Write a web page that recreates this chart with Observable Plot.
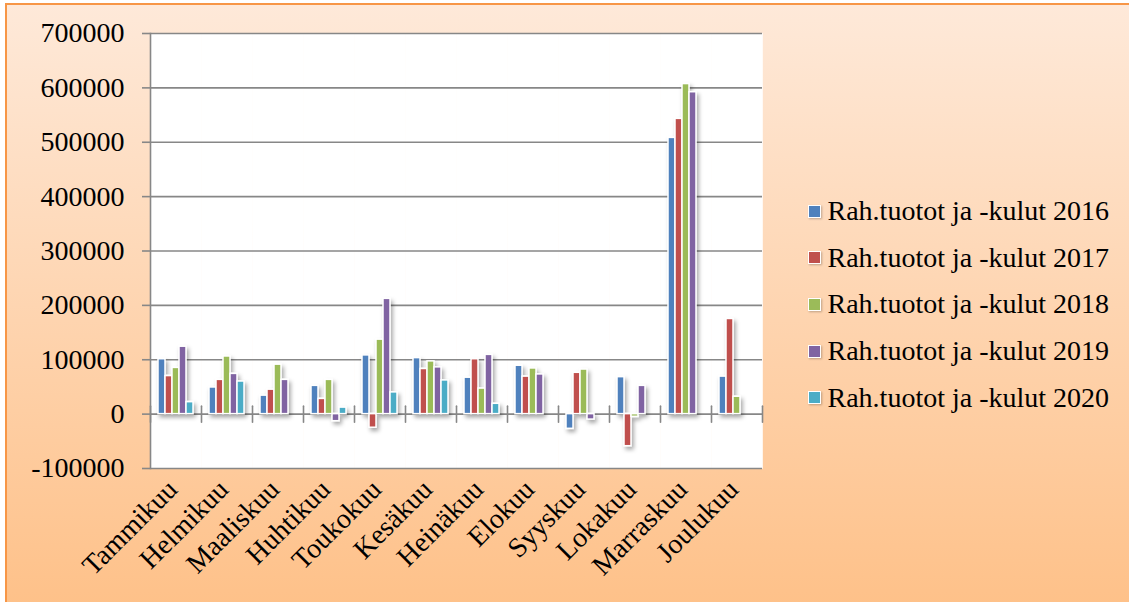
<!DOCTYPE html>
<html><head><meta charset="utf-8">
<script src="https://cdn.jsdelivr.net/npm/d3@7"></script>
<script src="https://cdn.jsdelivr.net/npm/@observablehq/plot@0.6"></script>
<style>
html,body{margin:0;padding:0;overflow:hidden;width:1129px;height:602px;}
body{position:relative;font-family:"Liberation Serif",serif;}
#bg{position:absolute;left:5px;top:3px;width:1140px;height:601px;border-left:2px solid #f79646;border-top:2px solid #f79646;background:linear-gradient(to bottom,#fee9d9,#fec189);}
#chart{position:absolute;left:0;top:0;}
#chart text{font-family:"Liberation Serif",serif !important;font-variant:normal !important;}
#legend{position:absolute;left:808px;top:188px;}
.row{display:flex;align-items:center;height:46.6px;}
.sw{width:11px;height:11px;border:1.5px solid #fff;box-shadow:1px 1px 2px rgba(0,0,0,0.25);}
.lb{margin-left:6.5px;font-family:"Liberation Serif",serif;font-size:28px;color:#000;white-space:nowrap;line-height:1;}
</style>
</head><body>
<div id="bg"></div>
<div id="chart"></div>
<div id="legend"></div>
<script>
const months = ["Tammikuu","Helmikuu","Maaliskuu","Huhtikuu","Toukokuu","Kesäkuu","Heinäkuu","Elokuu","Syyskuu","Lokakuu","Marraskuu","Joulukuu"];
const series = ["Rah.tuotot ja -kulut 2016","Rah.tuotot ja -kulut 2017","Rah.tuotot ja -kulut 2018","Rah.tuotot ja -kulut 2019","Rah.tuotot ja -kulut 2020"];
const colors = ["#4f81bd","#c0504d","#9bbb59","#8064a2","#4bacc6"];
const v2016 = [101000, 49000, 34000, 52000, 108000, 103000, 67000, 89000, -27000, 68000, 508000, 69000];
const v2017 = [70000, 63000, 45000, 28000, -25000, 83000, 101000, 69000, 76000, -59000, 543000, 175000];
const v2018 = [85000, 106000, 91000, 63000, 137000, 97000, 47000, 84000, 82000, -5000, 607000, 32000];
const v2019 = [124000, 74000, 63000, -13000, 212000, 86000, 109000, 73000, -10000, 52000, 592000, null];
const v2020 = [22000, 60000, null, 12000, 40000, 62000, 19000, null, null, null, null, null];
const yTicks = [-100000, 0, 100000, 200000, 300000, 400000, 500000, 600000, 700000];

const seriesValues = [v2016, v2017, v2018, v2019, v2020];
const data = months.flatMap((m, i) => series.map((s, j) => ({month: m, series: s, value: seriesValues[j][i]})))
  .filter(d => d.value !== null);

const grey = "#878787";
const sep = {draw(context, l) { context.moveTo(0, 0); context.lineTo(0, -l); }};

const chart = Plot.plot({
  width: 1129, height: 602,
  marginLeft: 146, marginRight: 363, marginTop: 33, marginBottom: 134,
  style: {background: "transparent", fontFamily: "Liberation Serif", fontSize: "28px", color: "#000", overflow: "visible"},
  fx: {domain: months, padding: 0, axis: null},
  x: {domain: series, paddingInner: 0.0625, paddingOuter: 0.76, axis: null},
  y: {domain: [-100000, 700000], axis: null},
  color: {domain: series, range: colors},
  marks: [
    Plot.frame({fill: "white", stroke: "white", strokeWidth: 0.6}),
    Plot.gridY(yTicks, {stroke: grey, strokeOpacity: 1, strokeWidth: 1.6}),
    Plot.frame({anchor: "left", stroke: grey, strokeWidth: 1.6, facetAnchor: "left"}),
    Plot.axisY(yTicks, {anchor: "left", label: null, tickSize: 8, tickPadding: 18, tickFormat: d => String(d), stroke: grey, strokeWidth: 1.6, fill: "#000", fontSize: 28, facetAnchor: "left"}),
    Plot.vector([0], {y: d => d, frameAnchor: "left", length: 16, rotate: 0, anchor: "middle", shape: sep, stroke: grey, strokeWidth: 1.6}),
    Plot.vector([0], {y: d => d, frameAnchor: "right", facetAnchor: "right", length: 16, rotate: 0, anchor: "middle", shape: sep, stroke: grey, strokeWidth: 1.6}),
    Plot.barY(data, {fx: "month", x: "series", y: "value", fill: "series", stroke: "white", strokeWidth: 1.5}),
    Plot.text(months, {fx: d => d, text: d => d, frameAnchor: "bottom", rotate: -45, textAnchor: "end", dx: 3, dy: 22.6, fontSize: 28, fill: "#000"})
  ]
});

const ns = "http://www.w3.org/2000/svg";
const defs = document.createElementNS(ns, "defs");
const filter = document.createElementNS(ns, "filter");
filter.setAttribute("id", "barshadow");
filter.setAttribute("x", "-50%"); filter.setAttribute("y", "-20%");
filter.setAttribute("width", "200%"); filter.setAttribute("height", "140%");
const ds = document.createElementNS(ns, "feDropShadow");
ds.setAttribute("dx", "2"); ds.setAttribute("dy", "3"); ds.setAttribute("stdDeviation", "2");
ds.setAttribute("flood-color", "#000"); ds.setAttribute("flood-opacity", "0.35");
filter.appendChild(ds); defs.appendChild(filter);
chart.insertBefore(defs, chart.firstChild);
chart.querySelectorAll('g[aria-label="bar"]').forEach(g => g.setAttribute("filter", "url(#barshadow)"));
chart.querySelectorAll("text").forEach(t => t.setAttribute("font-family", "Liberation Serif"));
document.getElementById("chart").appendChild(chart);

const legend = document.getElementById("legend");
series.forEach((s, i) => {
  const row = document.createElement("div"); row.className = "row";
  const sw = document.createElement("div"); sw.className = "sw"; sw.style.background = colors[i];
  const lb = document.createElement("div"); lb.className = "lb"; lb.textContent = s;
  row.appendChild(sw); row.appendChild(lb); legend.appendChild(row);
});
</script>
</body></html>
